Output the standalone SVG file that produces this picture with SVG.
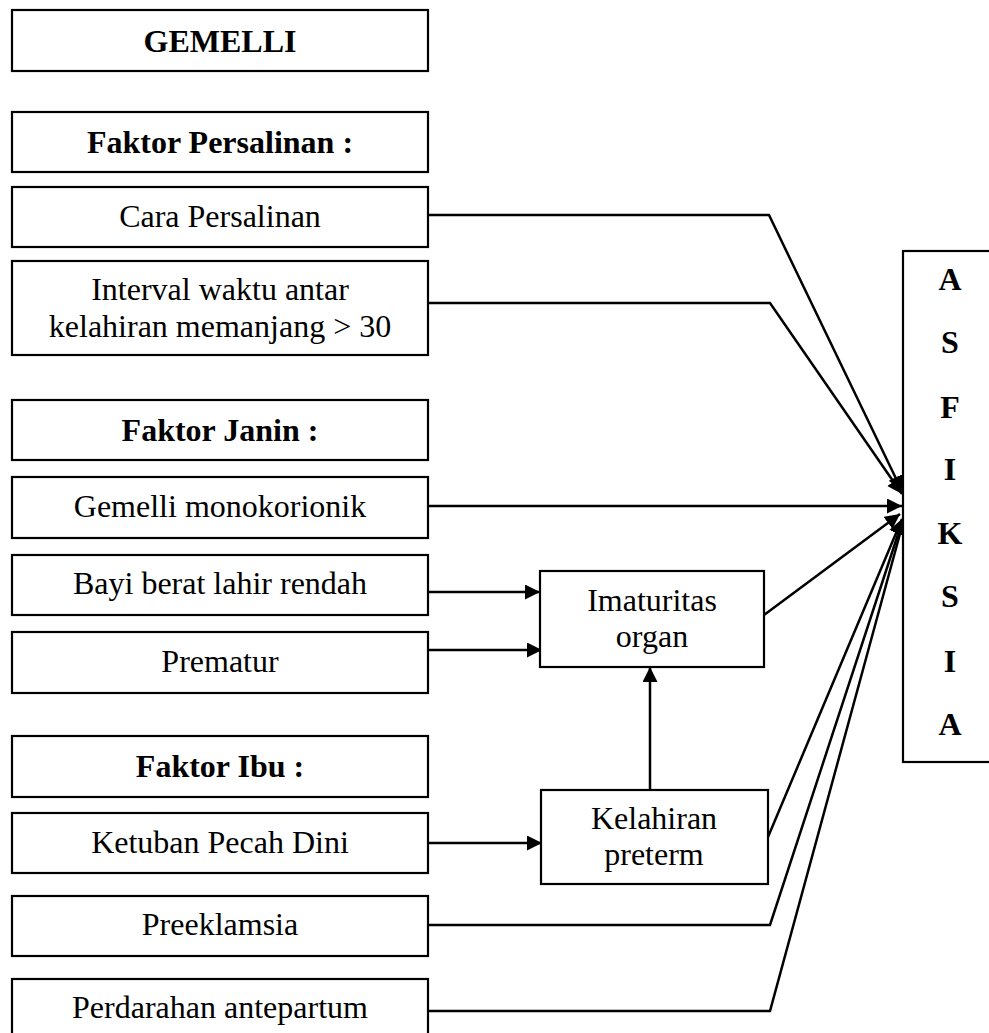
<svg xmlns="http://www.w3.org/2000/svg" width="989" height="1033" viewBox="0 0 989 1033">
<style>
.box{fill:#fff;stroke:#000;stroke-width:2.2}
.t{font-family:"Liberation Serif","Times New Roman",serif;font-size:32px;fill:#000;text-anchor:middle}
.b{font-weight:bold}
.c{fill:none;stroke:#000;stroke-width:2.5}
</style>
<defs>
<marker id="ah" markerUnits="userSpaceOnUse" markerWidth="16" markerHeight="16" refX="15" refY="7.5" orient="auto">
<path d="M0,0 L15,7.5 L0,15 z" fill="#000"/>
</marker>
</defs>
<rect width="989" height="1033" fill="#fff"/>
<g id="connectors">
<polyline class="c" points="428,215 769,215 902,491" marker-end="url(#ah)"/>
<polyline class="c" points="428,303 770,303 902,494" marker-end="url(#ah)"/>
<line class="c" x1="428" y1="506" x2="902" y2="506" marker-end="url(#ah)"/>
<line class="c" x1="428" y1="592" x2="540" y2="592" marker-end="url(#ah)"/>
<line class="c" x1="428" y1="650" x2="542" y2="650" marker-end="url(#ah)"/>
<line class="c" x1="428" y1="843" x2="542" y2="843" marker-end="url(#ah)"/>
<line class="c" x1="650" y1="790" x2="650" y2="667" marker-end="url(#ah)"/>
<line class="c" x1="764" y1="615" x2="900" y2="514" marker-end="url(#ah)"/>
<line class="c" x1="768" y1="837" x2="902" y2="519" marker-end="url(#ah)"/>
<polyline class="c" points="428,925 770,925 903,519" marker-end="url(#ah)"/>
<polyline class="c" points="428,1011 770,1011 904,519" marker-end="url(#ah)"/>
</g>
<g id="gemelli"><rect class="box" x="12" y="10" width="416" height="61"/><text class="t b" x="220" y="52">GEMELLI</text></g>
<g id="faktor-persalinan"><rect class="box" x="12" y="112" width="416" height="60"/><text class="t b" x="220" y="153">Faktor Persalinan :</text></g>
<g id="cara-persalinan"><rect class="box" x="12" y="187" width="416" height="60"/><text class="t" x="220" y="227">Cara Persalinan</text></g>
<g id="interval"><rect class="box" x="12" y="261" width="416" height="94"/><text class="t" x="220" y="300">Interval waktu antar</text><text class="t" x="220" y="337">kelahiran memanjang &gt; 30</text></g>
<g id="faktor-janin"><rect class="box" x="12" y="400" width="416" height="60"/><text class="t b" x="220" y="441">Faktor Janin :</text></g>
<g id="gemelli-mono"><rect class="box" x="12" y="477" width="416" height="61"/><text class="t" x="220" y="517">Gemelli monokorionik</text></g>
<g id="bblr"><rect class="box" x="12" y="555" width="416" height="60"/><text class="t" x="220" y="594">Bayi berat lahir rendah</text></g>
<g id="prematur"><rect class="box" x="12" y="632" width="416" height="61"/><text class="t" x="220" y="672">Prematur</text></g>
<g id="faktor-ibu"><rect class="box" x="12" y="736" width="416" height="61"/><text class="t b" x="220" y="777">Faktor Ibu :</text></g>
<g id="kpd"><rect class="box" x="12" y="813" width="416" height="60"/><text class="t" x="220" y="853">Ketuban Pecah Dini</text></g>
<g id="preeklamsia"><rect class="box" x="12" y="896" width="416" height="60"/><text class="t" x="220" y="935">Preeklamsia</text></g>
<g id="perdarahan"><rect class="box" x="12" y="979" width="416" height="70"/><text class="t" x="220" y="1018">Perdarahan antepartum</text></g>
<g id="imaturitas"><rect class="box" x="540" y="571" width="224" height="96"/><text class="t" x="652" y="611">Imaturitas</text><text class="t" x="652" y="647">organ</text></g>
<g id="kelahiran-preterm"><rect class="box" x="541" y="790" width="227" height="94"/><text class="t" x="654" y="829">Kelahiran</text><text class="t" x="654" y="865">preterm</text></g>
<g id="asfiksia"><rect class="box" x="903" y="251" width="100" height="511"/>
<text class="t b" x="950" y="290">A</text>
<text class="t b" x="950" y="353">S</text>
<text class="t b" x="950" y="418">F</text>
<text class="t b" x="950" y="480">I</text>
<text class="t b" x="950" y="544">K</text>
<text class="t b" x="950" y="607">S</text>
<text class="t b" x="950" y="672">I</text>
<text class="t b" x="950" y="735">A</text>
</g>
</svg>
